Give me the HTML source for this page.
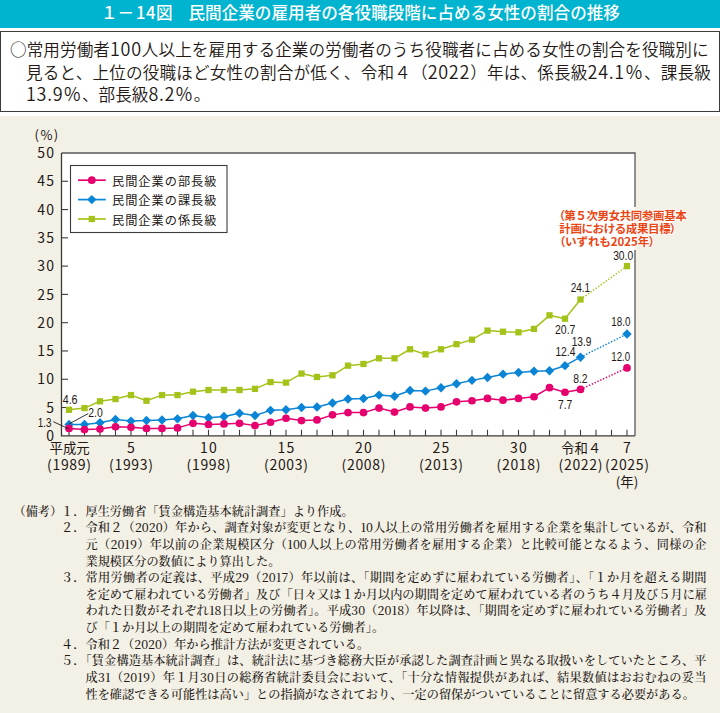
<!DOCTYPE html>
<html lang="ja"><head><meta charset="utf-8"><title>1-14図</title>
<style>
html,body{margin:0;padding:0}
body{width:720px;height:713px;position:relative;overflow:hidden;background:#f3f0e5;font-family:"Liberation Sans","Noto Sans CJK JP",sans-serif;color:#231815}
.hd{position:absolute;left:0;top:0;width:720px;height:28px;background:#00b3ce}
.hd span{position:absolute;top:0;font-size:16.6px;line-height:24px;color:#fff;white-space:nowrap;font-family:"Noto Sans CJK JP",sans-serif;font-weight:500}
.wb{position:absolute;left:0;top:28px;width:720px;height:88px;background:#fff}
.box{position:absolute;left:0;top:31px;width:718px;height:79px;border:1px solid #3e3a39;background:#fff}
.sl{position:absolute;font-size:16.6px;line-height:20px;white-space:nowrap;color:#231815;font-family:"Noto Sans CJK JP",sans-serif;font-weight:350}
.sd{font-size:18px;letter-spacing:0.7px}
.j{text-align:justify;text-align-last:justify}
.nl{position:absolute;font-size:12.2px;line-height:16px;white-space:nowrap;color:#231815;font-family:"Noto Serif CJK JP","Noto Serif CJK SC",serif;font-weight:500}
svg{position:absolute;left:0;top:0}
svg text{fill:#231815}
.yl{font-family:"Noto Sans CJK JP",sans-serif;font-size:14px;letter-spacing:1.3px}
.yl2{font-family:"Noto Sans CJK JP",sans-serif;font-size:13px;letter-spacing:1.5px}
.xl{font-family:"Noto Sans CJK JP",sans-serif;font-size:14px;letter-spacing:1.2px}
.xlj{font-family:"Noto Sans CJK JP",sans-serif;font-size:13.4px}
.dl{font-family:"Liberation Sans",sans-serif;font-size:12.3px}
.lg{font-family:"Noto Sans CJK JP",sans-serif;font-size:12.2px;letter-spacing:1px}
.an{font-family:"Noto Sans CJK JP",sans-serif;font-size:11.6px;font-weight:700;fill:#ea4614 !important;stroke:#fff;stroke-width:2px;stroke-linejoin:round;paint-order:stroke}
.pa{font-feature-settings:"palt"}
</style></head><body>
<div class="hd"><span style="left:101px">１－<span style="position:static;margin-left:1.7px;letter-spacing:0.6px">14</span>図</span><span style="left:188.5px">民間企業の雇用者の各役職段階に占める女性の割合の推移</span></div>
<div class="wb"></div>
<div class="box"></div>
<div class="sl j" style="left:10px;top:38.2px;width:698.5px">○常用労働者<span class="sd">100</span>人以上を雇用する企業の労働者のうち役職者に占める女性の割合を役職別に</div><div class="sl j" style="left:26px;top:60.7px;width:684.8px">見ると、上位の役職ほど女性の割合が低く、令和４（<span class="sd">2022</span>）年は、係長級<span class="sd">24.1％</span>、課長級</div><div class="sl" style="left:26px;top:83.2px;width:682.5px"><span class="sd">13.9％</span>、部長級<span class="sd">8.2％</span>。</div>
<svg width="720" height="713" viewBox="0 0 720 713">
<rect x="61.5" y="153" width="573.5" height="282.8" fill="#fff"/>
<path d="M61.5 153H635V207" fill="none" stroke="#595757" stroke-width="1.3"/>
<path d="M635 250V435.8" fill="none" stroke="#595757" stroke-width="1.3"/>
<path d="M61.5 407.52h6.5" stroke="#3e3a39" stroke-width="1.1"/>
<path d="M61.5 379.24h6.5" stroke="#3e3a39" stroke-width="1.1"/>
<path d="M61.5 350.96h6.5" stroke="#3e3a39" stroke-width="1.1"/>
<path d="M61.5 322.68h6.5" stroke="#3e3a39" stroke-width="1.1"/>
<path d="M61.5 294.4h6.5" stroke="#3e3a39" stroke-width="1.1"/>
<path d="M61.5 266.12h6.5" stroke="#3e3a39" stroke-width="1.1"/>
<path d="M61.5 237.84h6.5" stroke="#3e3a39" stroke-width="1.1"/>
<path d="M61.5 209.56h6.5" stroke="#3e3a39" stroke-width="1.1"/>
<path d="M61.5 181.28h6.5" stroke="#3e3a39" stroke-width="1.1"/>
<path d="M69 435.8v-6" stroke="#3e3a39" stroke-width="1.1"/>
<path d="M84.5 435.8v-6" stroke="#3e3a39" stroke-width="1.1"/>
<path d="M100 435.8v-6" stroke="#3e3a39" stroke-width="1.1"/>
<path d="M115.5 435.8v-6" stroke="#3e3a39" stroke-width="1.1"/>
<path d="M131 435.8v-6" stroke="#3e3a39" stroke-width="1.1"/>
<path d="M146.5 435.8v-6" stroke="#3e3a39" stroke-width="1.1"/>
<path d="M162 435.8v-6" stroke="#3e3a39" stroke-width="1.1"/>
<path d="M177.5 435.8v-6" stroke="#3e3a39" stroke-width="1.1"/>
<path d="M193 435.8v-6" stroke="#3e3a39" stroke-width="1.1"/>
<path d="M208.5 435.8v-6" stroke="#3e3a39" stroke-width="1.1"/>
<path d="M224 435.8v-6" stroke="#3e3a39" stroke-width="1.1"/>
<path d="M239.5 435.8v-6" stroke="#3e3a39" stroke-width="1.1"/>
<path d="M255 435.8v-6" stroke="#3e3a39" stroke-width="1.1"/>
<path d="M270.5 435.8v-6" stroke="#3e3a39" stroke-width="1.1"/>
<path d="M286 435.8v-6" stroke="#3e3a39" stroke-width="1.1"/>
<path d="M301.5 435.8v-6" stroke="#3e3a39" stroke-width="1.1"/>
<path d="M317 435.8v-6" stroke="#3e3a39" stroke-width="1.1"/>
<path d="M332.5 435.8v-6" stroke="#3e3a39" stroke-width="1.1"/>
<path d="M348 435.8v-6" stroke="#3e3a39" stroke-width="1.1"/>
<path d="M363.5 435.8v-6" stroke="#3e3a39" stroke-width="1.1"/>
<path d="M379 435.8v-6" stroke="#3e3a39" stroke-width="1.1"/>
<path d="M394.5 435.8v-6" stroke="#3e3a39" stroke-width="1.1"/>
<path d="M410 435.8v-6" stroke="#3e3a39" stroke-width="1.1"/>
<path d="M425.5 435.8v-6" stroke="#3e3a39" stroke-width="1.1"/>
<path d="M441 435.8v-6" stroke="#3e3a39" stroke-width="1.1"/>
<path d="M456.5 435.8v-6" stroke="#3e3a39" stroke-width="1.1"/>
<path d="M472 435.8v-6" stroke="#3e3a39" stroke-width="1.1"/>
<path d="M487.5 435.8v-6" stroke="#3e3a39" stroke-width="1.1"/>
<path d="M503 435.8v-6" stroke="#3e3a39" stroke-width="1.1"/>
<path d="M518.5 435.8v-6" stroke="#3e3a39" stroke-width="1.1"/>
<path d="M534 435.8v-6" stroke="#3e3a39" stroke-width="1.1"/>
<path d="M549.5 435.8v-6" stroke="#3e3a39" stroke-width="1.1"/>
<path d="M565 435.8v-6" stroke="#3e3a39" stroke-width="1.1"/>
<path d="M580.5 435.8v-6" stroke="#3e3a39" stroke-width="1.1"/>
<path d="M596 435.8v-6" stroke="#3e3a39" stroke-width="1.1"/>
<path d="M611.5 435.8v-6" stroke="#3e3a39" stroke-width="1.1"/>
<path d="M627 435.8v-6" stroke="#3e3a39" stroke-width="1.1"/>
<path d="M61.5 153V435.8H635" fill="none" stroke="#3e3a39" stroke-width="1.3"/>
<polyline points="69,409.78 84.5,408.09 100,401.3 115.5,399.04 131,395.08 146.5,400.73 162,395.08 177.5,395.08 193,391.68 208.5,389.99 224,389.99 239.5,389.99 255,388.86 270.5,382.07 286,382.63 301.5,373.58 317,376.98 332.5,375.28 348,365.67 363.5,363.97 379,358.31 394.5,358.31 410,349.26 425.5,354.35 441,349.26 456.5,344.17 472,339.65 487.5,330.6 503,331.73 518.5,332.3 534,328.9 549.5,315.33 565,318.72 580.5,299.49" fill="none" stroke="#a3c31a" stroke-width="1.5" stroke-linejoin="round"/>
<path d="M580.5 299.49L627 266.12" stroke="#a3c31a" stroke-width="1.5" stroke-dasharray="1.4 1.7" stroke-linecap="butt"/>
<rect x="65.85" y="406.63" width="6.3" height="6.3" fill="#a3c31a"/>
<rect x="81.35" y="404.94" width="6.3" height="6.3" fill="#a3c31a"/>
<rect x="96.85" y="398.15" width="6.3" height="6.3" fill="#a3c31a"/>
<rect x="112.35" y="395.89" width="6.3" height="6.3" fill="#a3c31a"/>
<rect x="127.85" y="391.93" width="6.3" height="6.3" fill="#a3c31a"/>
<rect x="143.35" y="397.58" width="6.3" height="6.3" fill="#a3c31a"/>
<rect x="158.85" y="391.93" width="6.3" height="6.3" fill="#a3c31a"/>
<rect x="174.35" y="391.93" width="6.3" height="6.3" fill="#a3c31a"/>
<rect x="189.85" y="388.53" width="6.3" height="6.3" fill="#a3c31a"/>
<rect x="205.35" y="386.84" width="6.3" height="6.3" fill="#a3c31a"/>
<rect x="220.85" y="386.84" width="6.3" height="6.3" fill="#a3c31a"/>
<rect x="236.35" y="386.84" width="6.3" height="6.3" fill="#a3c31a"/>
<rect x="251.85" y="385.71" width="6.3" height="6.3" fill="#a3c31a"/>
<rect x="267.35" y="378.92" width="6.3" height="6.3" fill="#a3c31a"/>
<rect x="282.85" y="379.48" width="6.3" height="6.3" fill="#a3c31a"/>
<rect x="298.35" y="370.43" width="6.3" height="6.3" fill="#a3c31a"/>
<rect x="313.85" y="373.83" width="6.3" height="6.3" fill="#a3c31a"/>
<rect x="329.35" y="372.13" width="6.3" height="6.3" fill="#a3c31a"/>
<rect x="344.85" y="362.52" width="6.3" height="6.3" fill="#a3c31a"/>
<rect x="360.35" y="360.82" width="6.3" height="6.3" fill="#a3c31a"/>
<rect x="375.85" y="355.16" width="6.3" height="6.3" fill="#a3c31a"/>
<rect x="391.35" y="355.16" width="6.3" height="6.3" fill="#a3c31a"/>
<rect x="406.85" y="346.11" width="6.3" height="6.3" fill="#a3c31a"/>
<rect x="422.35" y="351.2" width="6.3" height="6.3" fill="#a3c31a"/>
<rect x="437.85" y="346.11" width="6.3" height="6.3" fill="#a3c31a"/>
<rect x="453.35" y="341.02" width="6.3" height="6.3" fill="#a3c31a"/>
<rect x="468.85" y="336.5" width="6.3" height="6.3" fill="#a3c31a"/>
<rect x="484.35" y="327.45" width="6.3" height="6.3" fill="#a3c31a"/>
<rect x="499.85" y="328.58" width="6.3" height="6.3" fill="#a3c31a"/>
<rect x="515.35" y="329.15" width="6.3" height="6.3" fill="#a3c31a"/>
<rect x="530.85" y="325.75" width="6.3" height="6.3" fill="#a3c31a"/>
<rect x="546.35" y="312.18" width="6.3" height="6.3" fill="#a3c31a"/>
<rect x="561.85" y="315.57" width="6.3" height="6.3" fill="#a3c31a"/>
<rect x="577.35" y="296.34" width="6.3" height="6.3" fill="#a3c31a"/>
<rect x="623.85" y="262.97" width="6.3" height="6.3" fill="#a3c31a"/>
<polyline points="69,424.49 84.5,424.49 100,422.79 115.5,419.4 131,421.09 146.5,420.53 162,419.96 177.5,418.83 193,415.44 208.5,417.7 224,416.57 239.5,413.18 255,415.44 270.5,410.35 286,409.78 301.5,407.52 317,406.95 332.5,403 348,399.04 363.5,398.47 379,395.08 394.5,396.21 410,390.55 425.5,391.12 441,387.72 456.5,383.76 472,380.37 487.5,377.54 503,374.15 518.5,372.45 534,371.32 549.5,370.76 565,365.67 580.5,357.18" fill="none" stroke="#0a85d6" stroke-width="1.5" stroke-linejoin="round"/>
<path d="M580.5 357.18L627 333.99" stroke="#0a85d6" stroke-width="1.5" stroke-dasharray="1.4 1.7" stroke-linecap="butt"/>
<path d="M69 419.79l4.7 4.7l-4.7 4.7l-4.7-4.7z" fill="#0a85d6"/>
<path d="M84.5 419.79l4.7 4.7l-4.7 4.7l-4.7-4.7z" fill="#0a85d6"/>
<path d="M100 418.09l4.7 4.7l-4.7 4.7l-4.7-4.7z" fill="#0a85d6"/>
<path d="M115.5 414.7l4.7 4.7l-4.7 4.7l-4.7-4.7z" fill="#0a85d6"/>
<path d="M131 416.39l4.7 4.7l-4.7 4.7l-4.7-4.7z" fill="#0a85d6"/>
<path d="M146.5 415.83l4.7 4.7l-4.7 4.7l-4.7-4.7z" fill="#0a85d6"/>
<path d="M162 415.26l4.7 4.7l-4.7 4.7l-4.7-4.7z" fill="#0a85d6"/>
<path d="M177.5 414.13l4.7 4.7l-4.7 4.7l-4.7-4.7z" fill="#0a85d6"/>
<path d="M193 410.74l4.7 4.7l-4.7 4.7l-4.7-4.7z" fill="#0a85d6"/>
<path d="M208.5 413l4.7 4.7l-4.7 4.7l-4.7-4.7z" fill="#0a85d6"/>
<path d="M224 411.87l4.7 4.7l-4.7 4.7l-4.7-4.7z" fill="#0a85d6"/>
<path d="M239.5 408.48l4.7 4.7l-4.7 4.7l-4.7-4.7z" fill="#0a85d6"/>
<path d="M255 410.74l4.7 4.7l-4.7 4.7l-4.7-4.7z" fill="#0a85d6"/>
<path d="M270.5 405.65l4.7 4.7l-4.7 4.7l-4.7-4.7z" fill="#0a85d6"/>
<path d="M286 405.08l4.7 4.7l-4.7 4.7l-4.7-4.7z" fill="#0a85d6"/>
<path d="M301.5 402.82l4.7 4.7l-4.7 4.7l-4.7-4.7z" fill="#0a85d6"/>
<path d="M317 402.25l4.7 4.7l-4.7 4.7l-4.7-4.7z" fill="#0a85d6"/>
<path d="M332.5 398.3l4.7 4.7l-4.7 4.7l-4.7-4.7z" fill="#0a85d6"/>
<path d="M348 394.34l4.7 4.7l-4.7 4.7l-4.7-4.7z" fill="#0a85d6"/>
<path d="M363.5 393.77l4.7 4.7l-4.7 4.7l-4.7-4.7z" fill="#0a85d6"/>
<path d="M379 390.38l4.7 4.7l-4.7 4.7l-4.7-4.7z" fill="#0a85d6"/>
<path d="M394.5 391.51l4.7 4.7l-4.7 4.7l-4.7-4.7z" fill="#0a85d6"/>
<path d="M410 385.85l4.7 4.7l-4.7 4.7l-4.7-4.7z" fill="#0a85d6"/>
<path d="M425.5 386.42l4.7 4.7l-4.7 4.7l-4.7-4.7z" fill="#0a85d6"/>
<path d="M441 383.02l4.7 4.7l-4.7 4.7l-4.7-4.7z" fill="#0a85d6"/>
<path d="M456.5 379.06l4.7 4.7l-4.7 4.7l-4.7-4.7z" fill="#0a85d6"/>
<path d="M472 375.67l4.7 4.7l-4.7 4.7l-4.7-4.7z" fill="#0a85d6"/>
<path d="M487.5 372.84l4.7 4.7l-4.7 4.7l-4.7-4.7z" fill="#0a85d6"/>
<path d="M503 369.45l4.7 4.7l-4.7 4.7l-4.7-4.7z" fill="#0a85d6"/>
<path d="M518.5 367.75l4.7 4.7l-4.7 4.7l-4.7-4.7z" fill="#0a85d6"/>
<path d="M534 366.62l4.7 4.7l-4.7 4.7l-4.7-4.7z" fill="#0a85d6"/>
<path d="M549.5 366.06l4.7 4.7l-4.7 4.7l-4.7-4.7z" fill="#0a85d6"/>
<path d="M565 360.97l4.7 4.7l-4.7 4.7l-4.7-4.7z" fill="#0a85d6"/>
<path d="M580.5 352.48l4.7 4.7l-4.7 4.7l-4.7-4.7z" fill="#0a85d6"/>
<path d="M627 329.29l4.7 4.7l-4.7 4.7l-4.7-4.7z" fill="#0a85d6"/>
<polyline points="69,428.45 84.5,429.58 100,429.01 115.5,426.75 131,427.32 146.5,428.45 162,428.45 177.5,427.88 193,423.36 208.5,424.49 224,423.92 239.5,423.36 255,425.62 270.5,422.23 286,418.27 301.5,420.53 317,419.96 332.5,414.87 348,412.61 363.5,412.61 379,408.09 394.5,412.04 410,406.95 425.5,408.09 441,406.95 456.5,401.86 472,400.73 487.5,398.47 503,400.17 518.5,398.47 534,396.77 549.5,387.72 565,392.25 580.5,389.42" fill="none" stroke="#e5006e" stroke-width="1.5" stroke-linejoin="round"/>
<path d="M580.5 389.42L627 367.93" stroke="#e5006e" stroke-width="1.5" stroke-dasharray="1.4 1.7" stroke-linecap="butt"/>
<circle cx="69" cy="428.45" r="3.85" fill="#e5006e"/>
<circle cx="84.5" cy="429.58" r="3.85" fill="#e5006e"/>
<circle cx="100" cy="429.01" r="3.85" fill="#e5006e"/>
<circle cx="115.5" cy="426.75" r="3.85" fill="#e5006e"/>
<circle cx="131" cy="427.32" r="3.85" fill="#e5006e"/>
<circle cx="146.5" cy="428.45" r="3.85" fill="#e5006e"/>
<circle cx="162" cy="428.45" r="3.85" fill="#e5006e"/>
<circle cx="177.5" cy="427.88" r="3.85" fill="#e5006e"/>
<circle cx="193" cy="423.36" r="3.85" fill="#e5006e"/>
<circle cx="208.5" cy="424.49" r="3.85" fill="#e5006e"/>
<circle cx="224" cy="423.92" r="3.85" fill="#e5006e"/>
<circle cx="239.5" cy="423.36" r="3.85" fill="#e5006e"/>
<circle cx="255" cy="425.62" r="3.85" fill="#e5006e"/>
<circle cx="270.5" cy="422.23" r="3.85" fill="#e5006e"/>
<circle cx="286" cy="418.27" r="3.85" fill="#e5006e"/>
<circle cx="301.5" cy="420.53" r="3.85" fill="#e5006e"/>
<circle cx="317" cy="419.96" r="3.85" fill="#e5006e"/>
<circle cx="332.5" cy="414.87" r="3.85" fill="#e5006e"/>
<circle cx="348" cy="412.61" r="3.85" fill="#e5006e"/>
<circle cx="363.5" cy="412.61" r="3.85" fill="#e5006e"/>
<circle cx="379" cy="408.09" r="3.85" fill="#e5006e"/>
<circle cx="394.5" cy="412.04" r="3.85" fill="#e5006e"/>
<circle cx="410" cy="406.95" r="3.85" fill="#e5006e"/>
<circle cx="425.5" cy="408.09" r="3.85" fill="#e5006e"/>
<circle cx="441" cy="406.95" r="3.85" fill="#e5006e"/>
<circle cx="456.5" cy="401.86" r="3.85" fill="#e5006e"/>
<circle cx="472" cy="400.73" r="3.85" fill="#e5006e"/>
<circle cx="487.5" cy="398.47" r="3.85" fill="#e5006e"/>
<circle cx="503" cy="400.17" r="3.85" fill="#e5006e"/>
<circle cx="518.5" cy="398.47" r="3.85" fill="#e5006e"/>
<circle cx="534" cy="396.77" r="3.85" fill="#e5006e"/>
<circle cx="549.5" cy="387.72" r="3.85" fill="#e5006e"/>
<circle cx="565" cy="392.25" r="3.85" fill="#e5006e"/>
<circle cx="580.5" cy="389.42" r="3.85" fill="#e5006e"/>
<circle cx="627" cy="367.93" r="3.85" fill="#e5006e"/>
<text x="55.3" y="441" class="yl" text-anchor="end">0</text>
<text x="55.3" y="412.72" class="yl" text-anchor="end">5</text>
<text x="55.3" y="384.44" class="yl" text-anchor="end">10</text>
<text x="55.3" y="356.16" class="yl" text-anchor="end">15</text>
<text x="55.3" y="327.88" class="yl" text-anchor="end">20</text>
<text x="55.3" y="299.6" class="yl" text-anchor="end">25</text>
<text x="55.3" y="271.32" class="yl" text-anchor="end">30</text>
<text x="55.3" y="243.04" class="yl" text-anchor="end">35</text>
<text x="55.3" y="214.76" class="yl" text-anchor="end">40</text>
<text x="55.3" y="186.48" class="yl" text-anchor="end">45</text>
<text x="55.3" y="158.2" class="yl" text-anchor="end">50</text>
<text x="34.5" y="140.4" class="yl2">(%)</text>
<text x="69.6" y="453" class="xlj" text-anchor="middle">平成元</text>
<text x="69.6" y="470" class="xl" text-anchor="middle" textLength="45" lengthAdjust="spacing">(1989)</text>
<text x="131.6" y="453" class="xl" text-anchor="middle">5</text>
<text x="131.6" y="470" class="xl" text-anchor="middle" textLength="45" lengthAdjust="spacing">(1993)</text>
<text x="209.1" y="453" class="xl" text-anchor="middle">10</text>
<text x="209.1" y="470" class="xl" text-anchor="middle" textLength="45" lengthAdjust="spacing">(1998)</text>
<text x="286.6" y="453" class="xl" text-anchor="middle">15</text>
<text x="286.6" y="470" class="xl" text-anchor="middle" textLength="45" lengthAdjust="spacing">(2003)</text>
<text x="364.1" y="453" class="xl" text-anchor="middle">20</text>
<text x="364.1" y="470" class="xl" text-anchor="middle" textLength="45" lengthAdjust="spacing">(2008)</text>
<text x="441.6" y="453" class="xl" text-anchor="middle">25</text>
<text x="441.6" y="470" class="xl" text-anchor="middle" textLength="45" lengthAdjust="spacing">(2013)</text>
<text x="519.1" y="453" class="xl" text-anchor="middle">30</text>
<text x="519.1" y="470" class="xl" text-anchor="middle" textLength="45" lengthAdjust="spacing">(2018)</text>
<text x="581.1" y="453" class="xlj" text-anchor="middle">令和４</text>
<text x="581.1" y="470" class="xl" text-anchor="middle" textLength="45" lengthAdjust="spacing">(2022)</text>
<text x="627.6" y="453" class="xl" text-anchor="middle">7</text>
<text x="627.6" y="470" class="xl" text-anchor="middle" textLength="45" lengthAdjust="spacing">(2025)</text>
<text x="627" y="486.5" class="xlj" text-anchor="middle">(年)</text>
<text x="62.7" y="403.9" class="dl" textLength="14.9" lengthAdjust="spacingAndGlyphs">4.6</text>
<text x="88.3" y="417" class="dl" textLength="14.5" lengthAdjust="spacingAndGlyphs">2.0</text>
<text x="37.7" y="426.7" class="dl" textLength="13.8" lengthAdjust="spacingAndGlyphs">1.3</text>
<text x="613.15" y="259.75" class="dl" textLength="20" lengthAdjust="spacingAndGlyphs">30.0</text>
<text x="570.65" y="292.25" class="dl" textLength="19.5" lengthAdjust="spacingAndGlyphs">24.1</text>
<text x="555" y="333.75" class="dl" textLength="20.4" lengthAdjust="spacingAndGlyphs">20.7</text>
<text x="611.3" y="326.25" class="dl" textLength="19.1" lengthAdjust="spacingAndGlyphs">18.0</text>
<text x="571.65" y="345.6" class="dl" textLength="19.75" lengthAdjust="spacingAndGlyphs">13.9</text>
<text x="555.4" y="356.25" class="dl" textLength="20" lengthAdjust="spacingAndGlyphs">12.4</text>
<text x="611.3" y="361" class="dl" textLength="18.9" lengthAdjust="spacingAndGlyphs">12.0</text>
<text x="573.2" y="382.7" class="dl" textLength="14.4" lengthAdjust="spacingAndGlyphs">8.2</text>
<text x="558" y="408.6" class="dl" textLength="14.3" lengthAdjust="spacingAndGlyphs">7.7</text>
<path d="M69 423.9L88.3 413.6" stroke="#231815" stroke-width="0.9" fill="none"/>
<path d="M53.3 421.7L68.9 428.9" stroke="#231815" stroke-width="0.9" fill="none"/>
<rect x="70.5" y="165.5" width="156.5" height="67" fill="#fff" stroke="#3e3a39" stroke-width="1.1"/>
<path d="M78 180.2H105.8" stroke="#e5006e" stroke-width="1.7"/>
<circle cx="91.8" cy="180.2" r="3.85" fill="#e5006e"/>
<text x="112" y="185.9" class="lg">民間企業の部長級</text>
<path d="M78 199.6H105.8" stroke="#0a85d6" stroke-width="1.7"/>
<path d="M91.8 194.9l4.7 4.7l-4.7 4.7l-4.7-4.7z" fill="#0a85d6"/>
<text x="112" y="205.3" class="lg">民間企業の課長級</text>
<path d="M78 219H105.8" stroke="#a3c31a" stroke-width="1.7"/>
<rect x="88.65" y="215.85" width="6.3" height="6.3" fill="#a3c31a"/>
<text x="112" y="224.7" class="lg">民間企業の係長級</text>
<text x="558.9" y="220.3" class="an" textLength="128" lengthAdjust="spacing"><tspan class="pa">（</tspan>第５次男女共同参画基本</text>
<text x="559.3" y="233.1" class="an" textLength="116.8" lengthAdjust="spacing">計画における成果目標<tspan class="pa">）</tspan></text>
<text x="559.3" y="246.2" class="an" textLength="95.6" lengthAdjust="spacing"><tspan class="pa">（</tspan>いずれも2025年<tspan class="pa">）</tspan></text>
</svg>
<div class="nl" style="left:13.5px;top:502.80px">（備考）</div>
<div class="nl" style="left:61px;top:502.80px">１．</div>
<div class="nl" style="left:85.5px;top:502.80px;width:621px">厚生労働省「賃金構造基本統計調査」より作成。</div>
<div class="nl" style="left:61px;top:519.41px">２．</div>
<div class="nl j" style="left:85.5px;top:519.41px;width:621px">令和２（2020）年から、調査対象が変更となり、10人以上の常用労働者を雇用する企業を集計しているが、令和</div>
<div class="nl j" style="left:85.5px;top:536.02px;width:621px">元（2019）年以前の企業規模区分（100人以上の常用労働者を雇用する企業）と比較可能となるよう、同様の企</div>
<div class="nl" style="left:85.5px;top:552.63px;width:621px">業規模区分の数値により算出した。</div>
<div class="nl" style="left:61px;top:569.24px">３．</div>
<div class="nl j" style="left:85.5px;top:569.24px;width:621px">常用労働者の定義は、平成29（2017）年以前は、「期間を定めずに雇われている労働者」、「１か月を超える期間</div>
<div class="nl j" style="left:85.5px;top:585.85px;width:621px">を定めて雇われている労働者」及び「日々又は１か月以内の期間を定めて雇われている者のうち４月及び５月に雇</div>
<div class="nl j" style="left:85.5px;top:602.46px;width:621px">われた日数がそれぞれ18日以上の労働者」。平成30（2018）年以降は、「期間を定めずに雇われている労働者」及</div>
<div class="nl" style="left:85.5px;top:619.07px;width:621px">び「１か月以上の期間を定めて雇われている労働者」。</div>
<div class="nl" style="left:61px;top:635.68px">４．</div>
<div class="nl" style="left:85.5px;top:635.68px;width:621px">令和２（2020）年から推計方法が変更されている。</div>
<div class="nl" style="left:61px;top:652.29px">５．</div>
<div class="nl j" style="left:79.5px;top:652.29px;width:627px">「賃金構造基本統計調査」は、統計法に基づき総務大臣が承認した調査計画と異なる取扱いをしていたところ、平</div>
<div class="nl j" style="left:85.5px;top:668.90px;width:621px">成31（2019）年１月30日の総務省統計委員会において、「十分な情報提供があれば、結果数値はおおむねの妥当</div>
<div class="nl" style="left:85.5px;top:685.51px;width:621px">性を確認できる可能性は高い」との指摘がなされており、一定の留保がついていることに留意する必要がある。</div>
</body></html>
